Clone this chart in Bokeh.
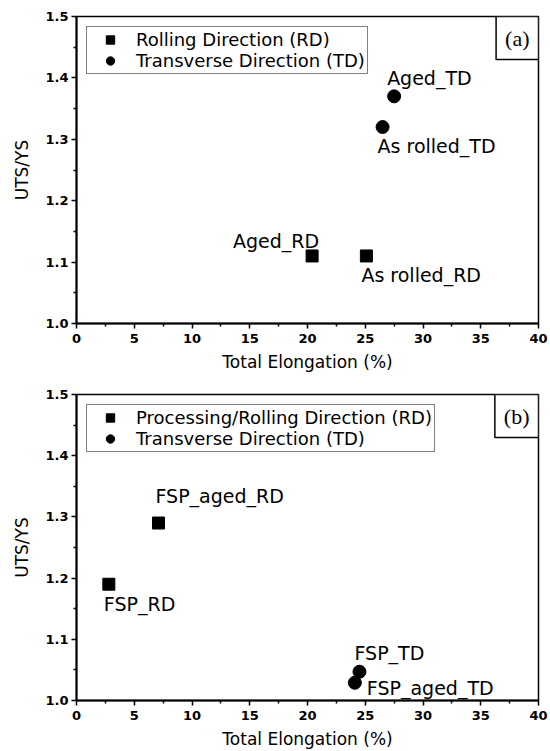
from bokeh.plotting import figure
from bokeh.layouts import column
from bokeh.models import (ColumnDataSource, Range1d, FixedTicker, PrintfTickFormatter,
                          Legend, LegendItem, Label)
from bokeh.core.properties import value
from bokeh.embed import file_html
from bokeh.resources import INLINE

# ---- data panel (a) ----
a_rd_names = ["Aged_RD", "As rolled_RD"]
a_rd_elong = [20.4, 25.1]
a_rd_ratio = [1.11, 1.11]
a_td_names = ["Aged_TD", "As rolled_TD"]
a_td_elong = [27.5, 26.5]
a_td_ratio = [1.37, 1.32]

# ---- data panel (b) ----
b_rd_names = ["FSP_aged_RD", "FSP_RD"]
b_rd_elong = [7.1, 2.8]
b_rd_ratio = [1.29, 1.19]
b_td_names = ["FSP_TD", "FSP_aged_TD"]
b_td_elong = [24.5, 24.1]
b_td_ratio = [1.047, 1.029]

x_ticks = [0, 5, 10, 15, 20, 25, 30, 35, 40]
y_ticks = [1.0, 1.1, 1.2, 1.3, 1.4, 1.5]

FONT = "DejaVu Sans"

# label placement (screen px offsets relative to points; layout only)
a_rd_off = dict(dx=[7, -5], dy=[-15, 19], align=["right", "left"])
a_td_off = dict(dx=[-7, -5], dy=[-18, 19], align=["left", "left"])
b_rd_off = dict(dx=[-3, -5], dy=[-27, 20], align=["left", "left"])
b_td_off = dict(dx=[-5, 12], dy=[-19, 5], align=["left", "left"])


def make_panel(tag, rd, td, rd_off, td_off, legend_rd, legend_td,
               left, right, top, bottom, h):
    p = figure(width=550, height=h, output_backend="svg",
               toolbar_location=None, x_range=Range1d(0, 40), y_range=Range1d(1.0, 1.5),
               min_border_left=left, min_border_right=right,
               min_border_top=top, min_border_bottom=bottom)
    p.background_fill_color = "white"
    p.border_fill_color = "white"
    p.grid.visible = False
    p.outline_line_color = "black"
    p.outline_line_width = 1.5

    p.xaxis.ticker = FixedTicker(ticks=x_ticks,
                                 minor_ticks=[v + 2.5 for v in x_ticks[:-1]])
    p.yaxis.ticker = FixedTicker(ticks=y_ticks,
                                 minor_ticks=[round(v + 0.05, 2) for v in y_ticks[:-1]])
    p.yaxis.formatter = PrintfTickFormatter(format="%.1f")
    for ax in (p.xaxis[0], p.yaxis[0]):
        ax.axis_line_width = 2
        ax.axis_line_color = "black"
        ax.major_tick_line_color = "black"
        ax.minor_tick_line_color = "black"
        ax.major_tick_line_width = 1.5
        ax.minor_tick_line_width = 1.5
        ax.major_tick_out = 5
        ax.major_tick_in = 0
        ax.minor_tick_out = 3
        ax.minor_tick_in = 0
        ax.major_label_text_font = FONT
        ax.major_label_text_font_style = "bold"
        ax.major_label_text_font_size = "13px"
        ax.major_label_text_color = "black"
        ax.axis_label_text_font = FONT
        ax.axis_label_text_font_style = "normal"
        ax.axis_label_text_font_size = "17px"
        ax.axis_label_text_color = "black"
    p.xaxis.axis_label = "Total Elongation (%)"
    p.yaxis.axis_label = "UTS/YS"
    p.xaxis.major_label_standoff = 5
    p.xaxis.axis_label_standoff = 6
    p.yaxis.major_label_standoff = 3
    p.yaxis.axis_label_standoff = 10

    src_rd = ColumnDataSource(dict(x=rd[1], y=rd[2], name=rd[0],
                                   dx=rd_off["dx"], dy=rd_off["dy"], al=rd_off["align"]))
    src_td = ColumnDataSource(dict(x=td[1], y=td[2], name=td[0],
                                   dx=td_off["dx"], dy=td_off["dy"], al=td_off["align"]))
    r_rd = p.scatter("x", "y", source=src_rd, marker="square", size=12,
                     fill_color="black", line_color="black")
    r_td = p.scatter("x", "y", source=src_td, marker="circle", size=13,
                     fill_color="black", line_color="black")
    for s in (src_rd, src_td):
        p.text("x", "y", text="name", source=s, x_offset="dx", y_offset="dy",
               text_align="al", text_baseline="middle",
               text_font=value(FONT), text_font_size="19px", text_color="black")

    legend = Legend(items=[LegendItem(label=legend_rd, renderers=[r_rd]),
                           LegendItem(label=legend_td, renderers=[r_td])],
                    location="top_left", margin=10, padding=2, spacing=0,
                    glyph_width=42, glyph_height=21, label_height=21,
                    label_standoff=5,
                    label_text_font=FONT, label_text_font_size="18px",
                    label_text_color="black",
                    border_line_color="black", border_line_width=1,
                    background_fill_alpha=1.0)
    p.add_layout(legend, "center")

    lab = Label(x=40, y=1.5, text=tag, text_align="right", text_baseline="top",
                text_font="Liberation Serif", text_font_size="22px", text_color="black",
                border_line_color="black", border_line_width=1.5,
                background_fill_color="white", padding=9)
    p.add_layout(lab)
    return p


p1 = make_panel("(a)", (a_rd_names, a_rd_elong, a_rd_ratio),
                (a_td_names, a_td_elong, a_td_ratio), a_rd_off, a_td_off,
                "Rolling Direction (RD)", "Transverse Direction (TD)",
                73, 12, 16, 52, 375)
p2 = make_panel("(b)", (b_rd_names, b_rd_elong, b_rd_ratio),
                (b_td_names, b_td_elong, b_td_ratio), b_rd_off, b_td_off,
                "Processing/Rolling Direction (RD)", "Transverse Direction (TD)",
                76, 10, 19, 50, 376)

layout = column(p1, p2, spacing=0)
open("out.html", "w").write(file_html(layout, INLINE))
